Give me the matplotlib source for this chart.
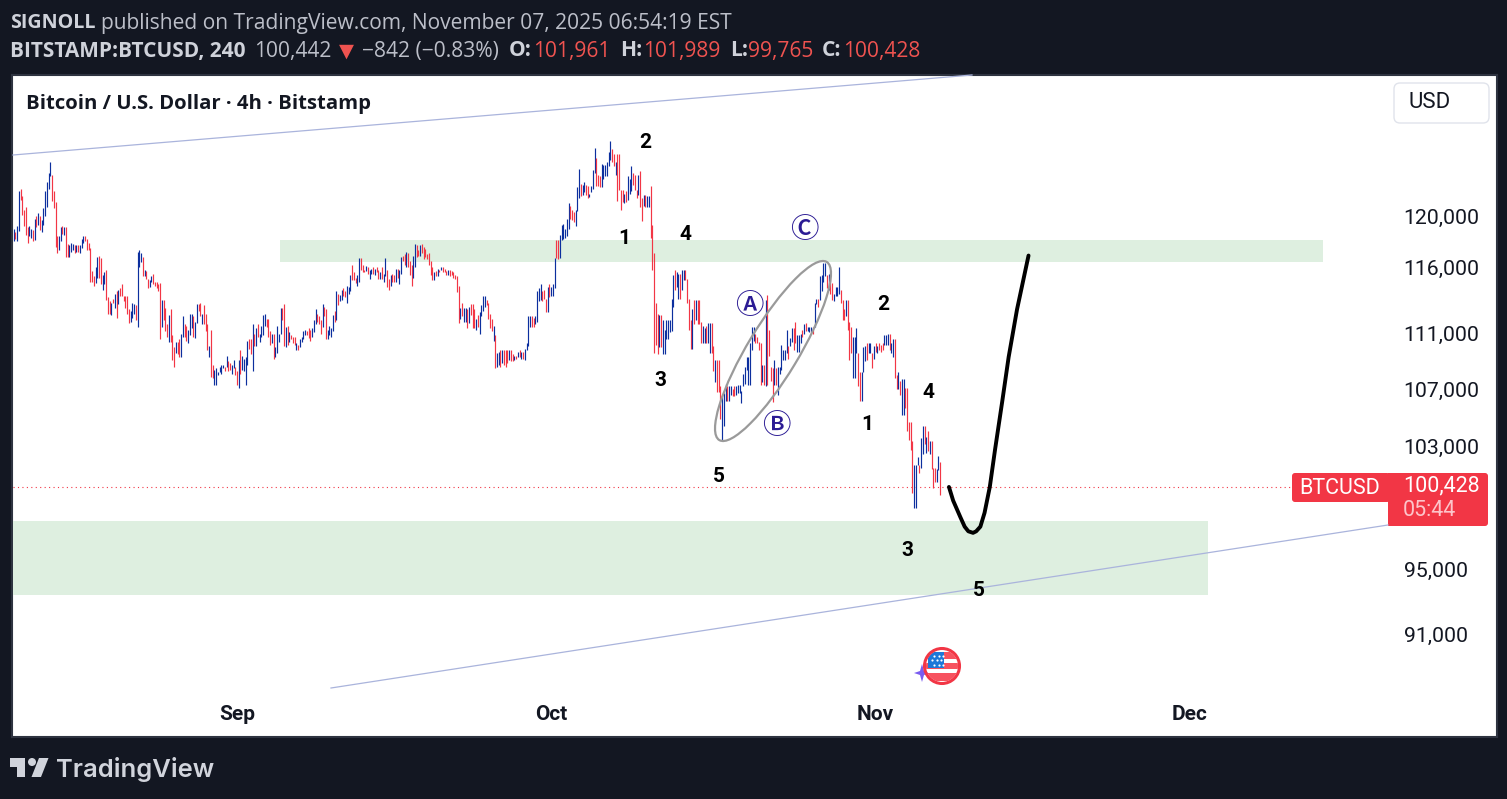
import numpy as np
import pandas as pd
import matplotlib
matplotlib.use("Agg")
import matplotlib.pyplot as plt
import matplotlib.dates as mdates
from matplotlib.collections import LineCollection
from matplotlib.patches import Rectangle, FancyBboxPatch, Ellipse, Circle, Polygon
from matplotlib.ticker import NullFormatter, FuncFormatter

W, H = 1507, 799
BG = "#131722"; RED = "#f23645"; BLUE = "#0c2f9e"; GREEN = "#deefe0"

first_bar = "2025-08-10 16:00"
# 4h bars, prices in thousands USD
highs = [
 119.0,118.7,119.2,122.0,122.2,121.6,120.5,120.7,119.1,119.2,
 119.0,118.9,119.8,120.0,120.2,120.0,119.7,120.6,122.0,122.7,
 123.5,124.4,123.3,122.0,121.1,118.4,118.4,119.1,119.2,119.1,
 119.1,117.8,117.7,117.9,117.8,117.7,117.7,117.7,117.7,
 118.2,118.4,118.4,118.2,117.9,117.5,115.7,115.3,116.0,116.8,
 116.9,116.7,115.4,115.6,115.8,113.7,113.4,113.3,113.6,114.0,
 114.2,114.3,114.4,114.7,113.8,113.8,113.8,112.8,112.7,113.3,
 113.2,113.1,117.2,117.3,117.1,116.8,115.8,115.7,115.1,115.0,
 115.3,115.5,114.9,114.9,114.7,114.8,113.5,113.5,112.9,111.7,
 112.4,112.8,110.9,110.0,110.4,110.4,110.6,111.0,112.3,111.7,
 111.6,111.3,112.5,112.5,112.3,111.9,113.2,113.2,113.3,112.5,
 113.1,112.5,111.7,110.1,111.3,108.7,108.4,108.5,108.2,108.6,
 108.7,108.7,108.6,109.4,109.0,108.9,108.7,109.1,108.6,108.3,
 109.1,109.8,109.4,109.2,109.3,110.5,110.6,110.6,111.7,111.0,
 111.4,111.7,111.0,111.6,112.4,112.5,112.1,112.1,111.2,111.0,
 111.0,110.0,111.6,111.0,112.9,112.9,113.2,111.5,111.6,111.1,
 110.9,110.8,110.8,110.3,110.2,110.6,110.8,111.2,111.3,111.2,
 111.4,111.3,111.4,112.0,112.8,112.5,112.3,112.0,113.2,113.0,
 112.8,111.3,111.6,111.4,112.4,112.7,114.2,114.0,113.9,114.3,
 114.4,114.2,114.6,114.5,115.4,116.2,115.6,115.2,115.4,116.7,
 116.7,116.2,115.8,116.1,116.0,115.8,115.9,116.0,115.9,116.0,
 115.8,115.6,116.0,115.5,116.7,115.8,115.1,115.4,115.5,115.4,
 115.9,115.9,115.8,116.8,116.9,117.0,117.2,117.1,116.5,116.2,
 116.9,117.8,117.7,117.3,117.7,117.8,117.6,117.4,117.0,117.1,
 116.5,116.0,115.6,115.7,115.9,115.8,116.0,116.0,115.9,115.7,
 115.8,115.8,115.7,115.6,115.4,115.3,114.6,112.9,113.3,112.9,
 112.9,112.8,113.0,113.2,113.2,112.8,112.1,112.4,112.6,113.1,
 113.8,113.8,113.5,113.3,112.5,112.1,111.6,110.9,109.6,109.7,
 109.8,109.8,109.8,109.8,109.8,109.8,109.8,109.5,109.4,109.4,
 109.7,109.8,109.7,109.7,109.9,110.3,112.3,112.3,112.3,112.2,
 112.3,114.2,114.4,114.7,114.2,114.3,113.6,114.5,114.7,114.5,
 114.7,116.7,118.1,118.1,118.5,119.3,119.4,119.0,119.8,121.0,
 120.8,120.5,120.3,120.5,122.3,123.8,122.6,122.5,122.7,122.5,
 122.4,121.8,122.4,123.7,125.5,124.7,123.3,123.2,124.2,124.1,
 124.1,124.4,125.2,126.1,125.4,125.0,124.4,125.0,125.0,122.1,
 122.1,121.8,122.0,123.2,123.0,124.0,123.5,123.3,122.1,123.3,
 123.6,121.4,121.7,121.7,121.6,121.6,122.4,119.3,117.1,113.3,
 112.5,112.4,112.4,112.0,111.3,112.0,112.0,112.0,113.6,115.4,
 115.8,115.6,115.5,115.5,115.8,115.8,115.8,115.1,113.6,112.0,
 112.8,113.5,113.5,113.5,113.5,111.9,111.6,111.4,111.6,111.8,
 111.8,111.8,110.1,109.1,109.1,109.1,107.2,106.5,106.7,107.4,
 107.2,107.2,107.2,107.0,107.2,107.2,107.3,107.3,106.9,108.1,
 108.6,109.3,109.3,110.3,111.5,111.5,111.0,110.8,110.4,110.3,
 108.7,108.7,113.5,113.9,111.3,108.6,108.5,109.1,108.5,108.6,
 108.6,110.2,109.8,109.8,111.3,110.1,110.7,111.4,111.4,111.9,
 110.9,110.9,111.0,111.3,111.7,111.8,111.5,111.5,111.5,111.5,
 113.3,113.6,113.6,115.3,115.4,116.3,116.3,115.4,115.5,115.7,
 114.8,114.0,114.5,114.5,116.0,114.3,113.5,112.8,113.5,113.5,
 111.9,111.5,110.8,110.8,111.4,109.6,108.2,108.2,110.0,110.1,
 110.3,110.3,110.3,109.6,110.1,110.3,110.1,110.3,110.2,110.3,
 110.9,110.9,111.0,111.0,110.3,110.6,110.6,108.0,108.2,107.6,
 107.7,107.7,107.1,107.1,104.7,104.7,103.4,101.8,101.8,102.3,
 101.8,103.6,104.4,104.4,103.7,104.1,103.4,103.4,101.6,101.6,
 101.5,102.4,102.0]
lows = [
 118.0,118.2,118.0,118.8,121.3,120.1,119.2,118.5,117.9,118.4,
 118.3,118.0,118.1,119.1,119.3,118.9,118.7,119.3,120.0,120.7,
 122.2,123.2,121.2,120.6,117.6,117.1,117.3,118.0,118.6,118.5,
 116.8,116.8,116.8,117.2,117.3,117.1,117.2,117.2,117.1,
 117.5,117.9,118.0,117.3,117.3,114.9,114.9,114.6,114.8,115.2,
 115.2,114.7,114.3,114.7,113.5,112.5,112.5,112.4,113.3,112.9,
 112.2,113.2,113.8,113.8,113.4,112.9,112.5,111.8,111.9,112.2,
 112.5,112.0,111.5,116.0,116.4,115.3,115.3,115.1,114.4,114.5,
 114.9,114.7,114.6,114.4,114.2,110.6,111.5,112.0,111.2,110.8,
 110.4,110.4,109.1,108.6,109.6,109.5,109.3,109.3,110.8,110.8,
 110.5,110.3,110.9,111.4,110.8,110.7,111.8,112.7,112.3,111.7,
 111.7,111.2,109.8,109.3,107.9,107.8,107.3,107.3,108.0,108.2,
 108.1,108.5,108.3,108.6,108.3,108.4,108.1,108.5,108.0,107.3,
 107.1,108.1,108.4,108.3,107.3,108.7,109.9,109.5,108.3,110.1,
 110.1,110.8,110.4,110.8,110.9,111.6,111.5,110.8,110.2,110.3,
 109.2,109.3,109.6,110.4,111.0,112.0,110.1,110.0,110.2,110.4,
 110.6,110.3,110.2,109.8,109.8,110.0,110.4,110.6,110.9,110.9,
 110.7,110.5,110.8,111.1,111.7,111.9,111.7,111.0,111.5,112.3,
 110.6,110.6,110.9,110.8,111.2,111.9,112.0,113.1,113.4,113.5,
 113.8,113.7,113.3,114.0,114.2,115.0,115.0,114.8,114.6,114.9,
 115.8,115.6,115.6,115.7,115.5,115.1,115.5,115.5,115.4,115.6,
 115.1,115.1,115.1,114.9,115.3,114.5,114.3,114.6,114.9,114.9,
 114.9,115.2,114.7,115.5,116.5,116.2,116.0,116.0,115.4,114.6,
 115.2,116.0,116.8,116.9,116.9,117.1,116.6,116.8,116.6,116.2,
 115.4,115.0,115.0,115.3,115.3,115.6,115.8,115.6,115.6,115.4,
 115.4,115.3,115.4,115.2,115.1,114.1,111.8,112.1,112.3,111.9,
 111.9,111.4,111.8,112.4,111.4,111.4,111.3,111.5,111.0,112.3,
 112.7,113.0,113.1,112.1,111.4,111.2,110.5,108.5,108.6,108.7,
 108.6,108.9,108.7,108.6,108.9,109.1,109.0,109.0,109.1,109.2,
 109.3,109.3,109.2,109.2,109.1,109.8,110.1,111.5,111.5,111.5,
 111.7,111.9,113.4,113.5,113.4,113.6,112.6,112.6,113.7,113.8,
 113.8,114.4,116.7,116.6,116.7,118.1,118.2,118.3,118.4,119.0,
 119.8,119.7,119.5,119.2,120.4,121.4,121.6,121.7,121.9,121.7,
 121.4,121.5,121.9,122.2,123.5,122.4,122.4,122.3,122.3,123.0,
 123.2,123.2,124.0,124.5,124.4,124.0,123.3,121.2,122.1,120.5,
 121.1,121.0,121.1,121.3,121.8,122.0,122.5,122.1,121.4,121.7,
 120.7,119.6,120.8,120.7,120.7,120.7,118.3,115.8,109.6,110.2,
 109.5,110.0,110.0,109.5,109.5,110.6,110.6,111.1,111.2,113.0,
 114.3,114.5,113.6,113.6,114.3,115.0,115.0,113.3,111.3,109.9,
 109.9,111.7,112.0,111.7,111.7,110.3,110.3,110.3,110.3,110.3,
 109.6,109.6,108.3,107.5,106.8,106.8,104.9,103.5,104.4,106.2,
 106.2,106.2,106.6,106.5,106.5,106.6,106.7,106.7,106.0,107.2,
 107.4,108.4,107.3,107.3,109.8,110.5,110.3,110.3,109.8,107.3,
 107.5,107.3,107.2,107.3,109.4,107.6,106.1,107.3,107.3,106.6,
 108.1,108.4,109.1,109.1,109.6,109.2,110.1,110.4,109.8,110.3,
 109.7,109.7,110.3,110.8,111.0,111.2,111.2,111.1,111.1,111.0,
 111.5,113.2,113.0,113.5,114.2,114.9,115.3,114.4,114.3,114.0,
 113.5,113.4,113.8,113.8,114.0,113.3,112.0,112.0,112.3,111.3,
 109.1,109.6,107.8,107.8,109.6,107.2,106.2,106.2,108.2,109.0,
 109.1,109.6,109.6,108.5,109.2,109.7,109.6,109.8,109.7,109.8,
 110.2,110.2,110.2,109.8,109.6,109.3,107.8,107.0,107.0,106.6,
 105.2,105.2,105.7,104.1,103.5,102.8,99.9,98.9,98.9,101.8,
 101.2,101.6,102.5,103.2,102.6,102.7,102.5,101.5,100.2,100.6,
 100.6,101.4,99.8]
directions = (
 "brbbrrrrrb" "brbrbrbbbb" "bbrrrrbbrb" "rrbbbrbrb" "bbrrrrrrbb"
 "rrbbrrrbrb" "rbrrrrrrbb" "brbbbrbrrb" "brrrrrbrrr" "brrrbrrbbr"
 "rbbbrbbrrb" "rrrbrrbbbb" "bbrbrrbbrr" "brbbbbrrbr" "brbbbbrrrb"
 "rbbbbrrbrb" "rrrbrbbbbr" "rrbbbrrrbr" "rbbbbrbrbb" "rrbbbrrrbb"
 "rrrbrbbrbr" "rbrbbrrbrr" "brbbrrbrrr" "bbrrbrrrrr" "rrbrbrbrrr"
 "brrrrrrbrb" "brbrrrbrbb" "bbrrrrbrbb"
 "rbrrrbrrbr" "brbrbbbbrr" "bbbbrrrbrb" "bbrrbbbbbb" "rrrbbbrbbr"
 "rbbbbrrrbb" "bbbbrrbrrr" "rbrbbbrrrb" "rrbrbbrrrr" "rbrbbbbbbb"
 "rbbrbbrrrr" "brbrrrbbrb" "brrbrrrbbb" "rbbrrbbbbb" "bbbbbbrrrr"
 "brbrrrrbrb" "bbbbbrbbrr" "bbbrbrbbbr" "bbrbbbbrbr" "rbbbbrrrbr"
 "rrbbbrrbbb" "rbbrbrbrrr" "bbbrbbrrbr" "bbrrrrrbbb" "rbbrbrbrrr"
 "bbr")

price_ticks = [120, 116, 111, 107, 103, 95, 91]
month_ticks = ["2025-09-01", "2025-10-01", "2025-11-01", "2025-12-01"]
month_labels = ["Sep", "Oct", "Nov", "Dec"]
last_line_level = 100.29

upper_zone = ("2025-09-05 02:00", "2025-12-13 18:00", 116.4, 118.1)
lower_zone = ("2025-08-10 00:00", "2025-12-02 18:00", 93.36, 98.07)

forecast_days = [68.0, 68.4, 69.1, 69.5, 69.85, 70.3, 70.6, 71.0, 71.4, 71.9, 72.4, 73.1, 73.7, 74.5, 75.6]
forecast_price = [100.3, 99.4, 98.3, 97.7, 97.4, 97.3, 97.4, 97.7, 98.6, 100.3, 102.8, 106.2, 109.3, 112.8, 116.9]

wave_text = ["2", "1", "4", "3", "5", "2", "1", "4", "3", "5"]
wave_x = [645, 624, 685, 660, 719, 883, 867, 928, 907, 979]
wave_y = [142, 237, 234, 380, 475, 303, 424, 391, 549, 590]

fig = plt.figure(figsize=(W / 100, H / 100), dpi=100, facecolor=BG)

def rect(l, t, r, b):
    return [l / W, 1 - b / H, (r - l) / W, (b - t) / H]

bg = fig.add_axes(rect(12, 75, 1497, 737), zorder=0, facecolor="white")
bg.set_xticks([]); bg.set_yticks([])
for s in bg.spines.values():
    s.set_color("#2e3340"); s.set_linewidth(1.5)

ax = fig.add_axes(rect(13, 75, 1387, 688), zorder=1)
ax.patch.set_alpha(0)
for s in ax.spines.values():
    s.set_visible(False)
sep1 = mdates.date2num(pd.Timestamp("2025-09-01"))
ax.set_xlim(sep1 - 224 / 10.47, sep1 + 1150 / 10.47)
ax.set_yscale("log")
ax.set_ylim(120 * np.exp(-472 / 1511), 120 * np.exp(141 / 1511))

times = mdates.date2num(pd.date_range(first_bar, periods=len(highs), freq="4h"))
segs = [[(t, l), (t, h)] for t, l, h in zip(times, lows, highs)]
cols = [BLUE if d == "b" else RED for d in directions]
ax.add_collection(LineCollection(segs, colors=cols, linewidths=0.85, zorder=3, capstyle="butt"))

for z in (upper_zone, lower_zone):
    x0, x1 = mdates.date2num(pd.Timestamp(z[0])), mdates.date2num(pd.Timestamp(z[1]))
    ax.add_patch(Rectangle((x0, z[2]), x1 - x0, z[3] - z[2], fc=GREEN, ec="none", zorder=1))

ax.axhline(last_line_level, color=RED, lw=0.8, ls=(0, (1, 3)), zorder=2)
ax.plot(sep1 + np.array(forecast_days), forecast_price, color="black", lw=2.8, zorder=5,
        solid_capstyle="round", solid_joinstyle="round")

ax.yaxis.tick_right()
ax.set_yticks(price_ticks)
ax.yaxis.set_major_formatter(FuncFormatter(lambda v, _: f"{int(round(v * 1000)):,}"))
ax.yaxis.set_minor_formatter(NullFormatter())
ax.tick_params(axis="y", which="both", length=0, pad=12, labelsize=15.3, labelcolor="#131722")
ax.set_xticks(mdates.date2num([pd.Timestamp(d) for d in month_ticks]))
ax.set_xticklabels(month_labels)
ax.tick_params(axis="x", length=0, pad=12.5, labelsize=15, labelcolor="#131722")
for t in ax.get_xticklabels():
    t.set_fontfamily("Roboto"); t.set_fontweight("bold")
for t in ax.get_yticklabels():
    t.set_fontfamily("Roboto")

ov = fig.add_axes([0, 0, 1, 1], zorder=2)
ov.set_xlim(0, W); ov.set_ylim(H, 0); ov.axis("off"); ov.patch.set_alpha(0)

LINE = "#aab4dc"
ov.plot([13, 972], [155, 75], color=LINE, lw=0.9)
ov.plot([331, 1388], [688, 525], color=LINE, lw=0.9)
ov.add_patch(Ellipse((773, 351), 208, 51, angle=-58.9, fc="none", ec="#9a9a9a", lw=1.6, zorder=4))

for s, x, y in zip(wave_text, wave_x, wave_y):
    ov.text(x, y + 1, s, ha="center", va="center", fontsize=15, fontweight="bold", color="black",
            family="Roboto", stretch="condensed")
for s, x, y in (("\u24b6", 749.5, 306), ("\u24b7", 776, 426), ("\u24b8", 804, 229)):
    ov.text(x, y, s, ha="center", va="center", fontsize=20.5, color="#2b1b94", fontweight="medium",
            family=["Noto Sans CJK JP", "DejaVu Sans"])

HDR = "#bcbfc9"; HDRB = "#cfd2da"; SALE = "#ef5350"
hf = dict(fontsize=15.1, family="Open Sans", va="center")
def T(x, y, s, c=HDR, w="normal", **kw):
    d = dict(hf); d.update(kw)
    return ov.text(x, y, s, color=c, fontweight=w, **d)
T(10, 23, "SIGNOLL", HDRB, "bold", fontsize=14.2)
T(101, 23, "published on TradingView.com, November 07, 2025 06:54:19 EST")
T(10, 51, "BITSTAMP:BTCUSD, 240", HDRB, "bold", fontsize=15)
T(254, 51, "100,442")
ov.text(346.5, 51, "\u25bc", color="#ef5350", fontsize=14, ha="center", va="center", family="DejaVu Sans")
T(362, 51, "\u2212842 (\u22120.83%)")
for x, lab, vx, val in ((509, "O:", 533.5, "101,961"), (620, "H:", 643.5, "101,989"),
                        (730, "L:", 748, "99,765"), (822, "C:", 843.5, "100,428")):
    T(x, 51, lab, HDRB, "bold")
    T(vx, 51, val, SALE)

ov.text(26, 104, "Bitcoin / U.S. Dollar \u00b7 4h \u00b7 Bitstamp", color="#131722", fontsize=14.6,
        fontweight="bold", family="Open Sans", va="center")

ov.add_patch(FancyBboxPatch((1397, 86), 89, 34, boxstyle="round,pad=3,rounding_size=6",
                            fc="white", ec="#e0e3eb", lw=1))
ov.text(1430, 103, "USD", color="#131722", fontsize=16, family="Roboto", ha="center", va="center")

ov.add_patch(FancyBboxPatch((1295, 476), 92, 23, boxstyle="round,pad=3,rounding_size=3", fc=RED, ec="none"))
ov.add_patch(Rectangle((1340, 473), 47, 29, fc=RED, ec="none"))
ov.add_patch(FancyBboxPatch((1391, 476), 94, 47, boxstyle="round,pad=3,rounding_size=3", fc=RED, ec="none"))
ov.add_patch(Rectangle((1388, 473), 20, 53, fc=RED, ec="none"))
ov.text(1340, 488, "BTCUSD", color="white", fontsize=15.5, family="Roboto", ha="center", va="center")
ov.text(1403, 486, "100,428", color="white", fontsize=15.5, family="Roboto", va="center")
ov.text(1403, 510.5, "05:44", color="#fdc4ca", fontsize=15.5, family="Roboto", va="center")

# event flag
star = Polygon([(914, 673), (920, 671), (922, 664), (924, 671), (931, 673), (924, 675), (922, 682), (920, 675)],
               fc="#7a5cf0", ec="none", zorder=3)
ov.add_patch(star)
clip = Circle((942, 666), 16, transform=ov.transData)
ov.add_patch(Circle((942, 666), 16, fc="white", ec="none", zorder=4))
for y0, h0 in ((652, 7), (663, 5.5), (673, 8)):
    r = Rectangle((924, y0), 36, h0, fc="#f7525f", ec="none", zorder=5)
    ov.add_patch(r); r.set_clip_path(clip)
r = Rectangle((928, 652), 16, 16, fc="#1e78d8", ec="none", zorder=6)
ov.add_patch(r); r.set_clip_path(clip)
ov.scatter([934, 939, 943, 932, 937, 941, 934, 939, 943], [656, 656, 656, 660, 660, 660, 665, 665, 665],
           s=2.5, c="white", linewidths=0, zorder=6.5)
ov.add_patch(Circle((942, 666), 17.5, fc="none", ec=RED, lw=2.2, zorder=7))

# brand
LOGO = "#d1d4dc"
ov.add_patch(Polygon([(10, 758), (25, 758), (25, 777), (17, 777), (17, 767), (10, 767)], fc=LOGO, ec="none"))
ov.add_patch(Circle((32, 762), 4, fc=LOGO, ec="none"))
ov.add_patch(Polygon([(39, 758), (48.5, 758), (41, 777), (31.5, 777)], fc=LOGO, ec="none"))
ov.text(56, 769, "TradingView", color=LOGO, fontsize=18.4, fontweight="semibold", family="Inter", va="center")

fig.savefig("out.png", dpi=100, facecolor=BG)
